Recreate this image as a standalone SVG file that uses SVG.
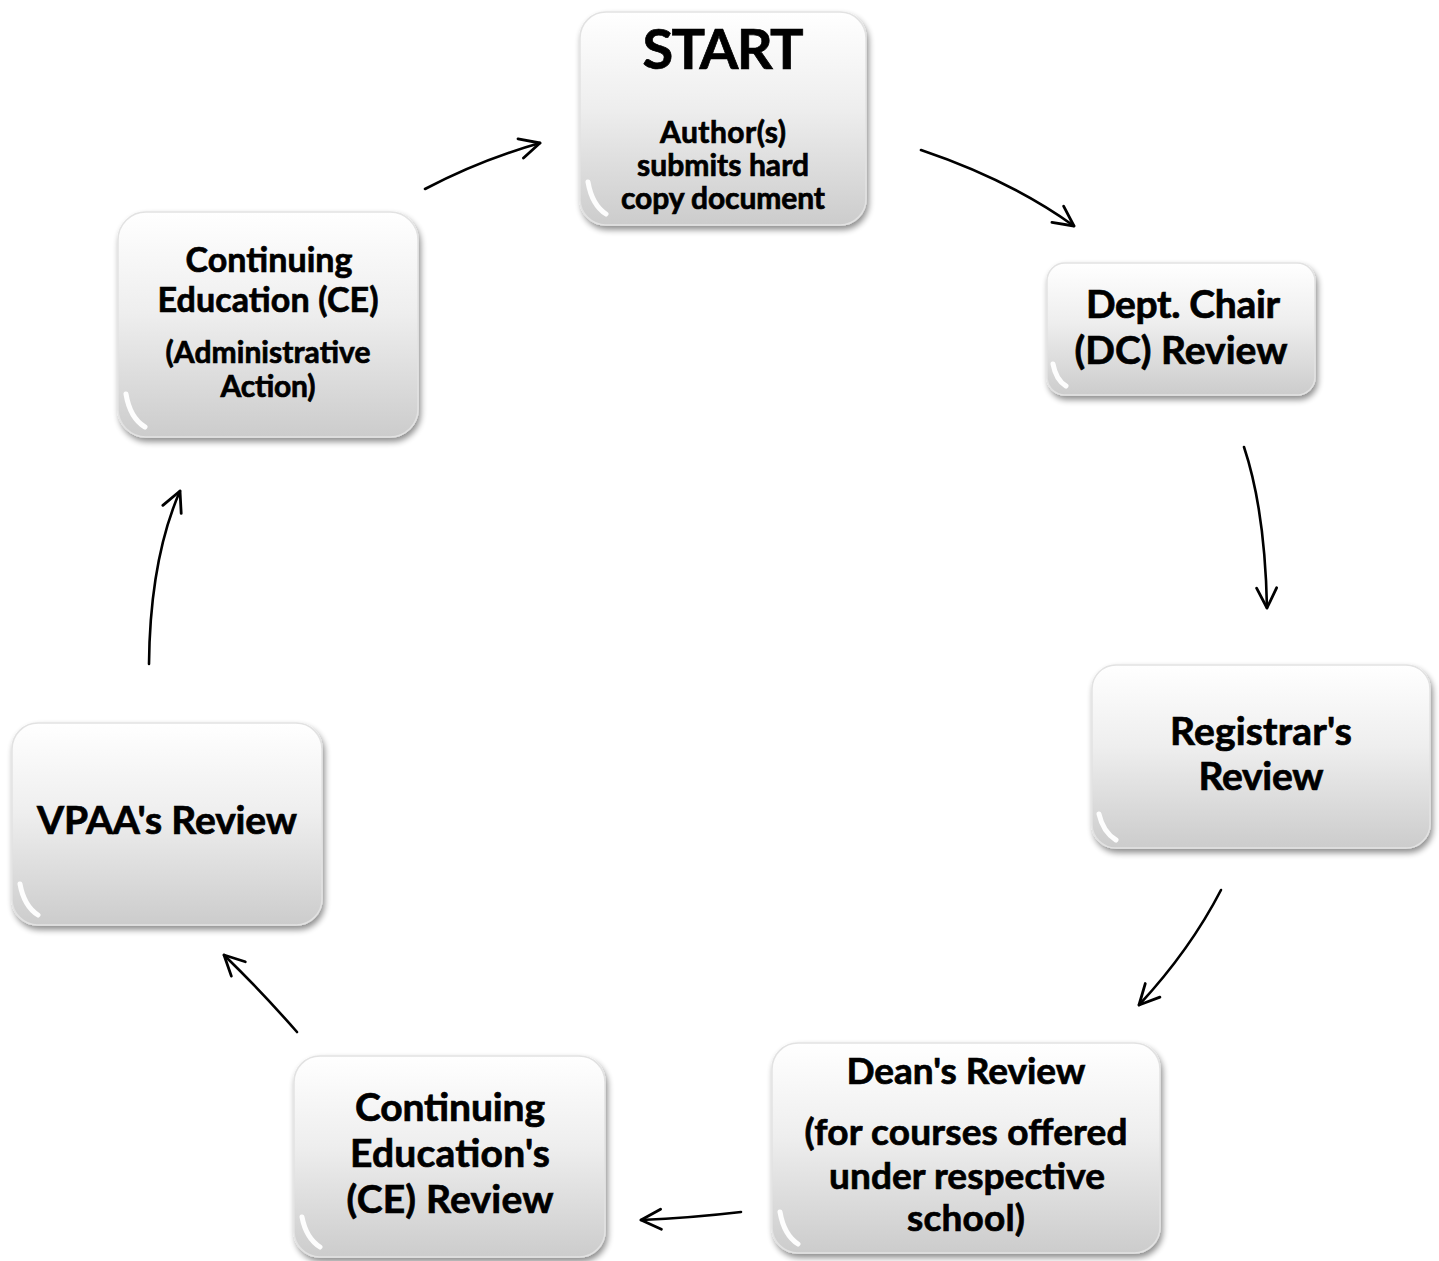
<svg xmlns="http://www.w3.org/2000/svg" width="1439" height="1261" viewBox="0 0 1439 1261">
<defs>
<linearGradient id="g" x1="0" y1="0" x2="0" y2="1">
<stop offset="0" stop-color="#ffffff"/>
<stop offset="0.45" stop-color="#eeeeee"/>
<stop offset="1" stop-color="#cccccc"/>
</linearGradient>
<filter id="sh" x="-10%" y="-10%" width="125%" height="125%">
<feGaussianBlur in="SourceAlpha" stdDeviation="3"/>
<feOffset dx="2" dy="4" result="b"/>
<feComponentTransfer><feFuncA type="linear" slope="0.45"/></feComponentTransfer>
<feMerge><feMergeNode/><feMergeNode in="SourceGraphic"/></feMerge>
</filter>
<marker id="ah" viewBox="0 0 12 12" refX="11" refY="6" markerWidth="24" markerHeight="24" markerUnits="userSpaceOnUse" orient="auto">
<path d="M1,1 L11,6 L1,11" fill="none" stroke="#000" stroke-width="1.4" stroke-linecap="round" stroke-linejoin="round"/>
</marker>
</defs>
<style>
.box{fill:url(#g);stroke:#e2e2e2;stroke-width:1.5;filter:url(#sh)}
.gl{fill:none;stroke:#ffffff;stroke-width:5;stroke-linecap:round;opacity:0.95}
text{font-family:"Lato","Open Sans","Liberation Sans",sans-serif;font-weight:bold;fill:#000;stroke:#000;stroke-width:0.7;text-anchor:middle}
.c{fill:none;stroke:#000;stroke-width:2.6;marker-end:url(#ah);stroke-linecap:round}
</style>
<rect width="1439" height="1261" fill="#fff"/>

<g id="connectors">
<path class="c" d="M921,150 Q1010,180 1074,226"/>
<path class="c" d="M1244,447 Q1265,510 1267,608"/>
<path class="c" d="M1221,890 Q1190,950 1139,1005"/>
<path class="c" d="M741,1212 Q690,1218 641,1220"/>
<path class="c" d="M297,1032 Q262,992 224,955"/>
<path class="c" d="M149,664 Q150,560 180,491"/>
<path class="c" d="M425,189 Q480,160 540,143"/>
</g>

<g id="start">
<rect class="box" x="580" y="12" width="286" height="213" rx="26"/>
<path class="gl" d="M588,182 Q592,205 606,214"/>
<text x="723" y="69" font-size="56" textLength="161">START</text>
<text x="723" y="143" font-size="30" textLength="126">Author(s)</text>
<text x="723" y="176" font-size="30" textLength="172">submits hard</text>
<text x="723" y="209" font-size="30" textLength="204">copy document</text>
</g>

<g id="dept-chair">
<rect class="box" x="1047" y="263" width="268" height="132" rx="18"/>
<path class="gl" d="M1053,364 Q1056,380 1066,386"/>
<text x="1183" y="318" font-size="39" textLength="194">Dept. Chair</text>
<text x="1181" y="364" font-size="39" textLength="213">(DC) Review</text>
</g>

<g id="registrar">
<rect class="box" x="1092" y="665" width="338" height="183" rx="24"/>
<path class="gl" d="M1099,814 Q1103,832 1116,840"/>
<text x="1261" y="745" font-size="39" textLength="182">Registrar's</text>
<text x="1261" y="790" font-size="39" textLength="125">Review</text>
</g>

<g id="dean">
<rect class="box" x="772" y="1043" width="388" height="210" rx="26"/>
<path class="gl" d="M780,1212 Q784,1235 798,1244"/>
<text x="966" y="1084" font-size="37" textLength="239">Dean's Review</text>
<text x="966" y="1145" font-size="37" textLength="323">(for courses offered</text>
<text x="967" y="1189" font-size="37" textLength="276">under respective</text>
<text x="966" y="1231" font-size="37" textLength="118">school)</text>
</g>

<g id="ce-review">
<rect class="box" x="294" y="1056" width="311" height="201" rx="26"/>
<path class="gl" d="M302,1217 Q306,1238 320,1247"/>
<text x="450" y="1121" font-size="39" textLength="190">Continuing</text>
<text x="450" y="1167" font-size="39" textLength="200">Education's</text>
<text x="450" y="1213" font-size="39" textLength="207">(CE) Review</text>
</g>

<g id="vpaa">
<rect class="box" x="12" y="723" width="310" height="202" rx="26"/>
<path class="gl" d="M20,884 Q24,906 38,915"/>
<text x="167" y="834" font-size="39" textLength="260">VPAA's Review</text>
</g>

<g id="ce-admin">
<rect class="box" x="118" y="212" width="300" height="225" rx="28"/>
<path class="gl" d="M126,394 Q130,418 145,427"/>
<text x="269" y="272" font-size="34" textLength="167">Continuing</text>
<text x="268" y="312" font-size="34" textLength="221">Education (CE)</text>
<text x="268" y="363" font-size="30" textLength="205">(Administrative</text>
<text x="268" y="397" font-size="30" textLength="95">Action)</text>
</g>
</svg>
